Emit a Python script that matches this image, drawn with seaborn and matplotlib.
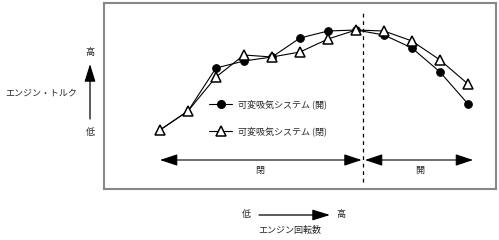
import matplotlib
matplotlib.use("Agg")
import matplotlib.pyplot as plt
from matplotlib.lines import Line2D
import seaborn as sns
import pandas as pd

sns.set_theme(style="white")
plt.rcParams['font.family'] = ['Noto Sans CJK JP', 'DejaVu Sans']

# data (engine speed index, relative torque)
rpm_idx = [0, 1, 2, 3, 4, 5, 6, 7, 8, 9, 10, 11]
torque_circle = [59, 78, 121, 128, 132, 151, 158, 159, 154, 141, 117, 85]
torque_triangle = [59, 78, 112, 134, 132, 137, 150, 159, 158, 148, 129, 105]
label_circle = "可変吸気システム (開)"
label_triangle = "可変吸気システム (閉)"
region_labels = ["閉", "開"]
switch_point = 7.25

W, H = 499, 240
fig = plt.figure(figsize=(W / 100, H / 100), dpi=100)
ax = fig.add_axes([104 / W, 1 - 189 / H, (496 - 104) / W, (189 - 3) / H])

circ_style = dict(color="black", lw=0.8, marker="o", markersize=5.5,
                  markerfacecolor="black", markeredgecolor="black")
tri_style = dict(color="black", lw=0.8, marker="^", markersize=7,
                 markerfacecolor="white", markeredgecolor="black", markeredgewidth=1.1)

df = pd.DataFrame({"rpm": rpm_idx, "c": torque_circle, "t": torque_triangle})
sns.lineplot(data=df, x="rpm", y="c", ax=ax, markevery=list(range(2, 12)),
             legend=False, zorder=3, **circ_style)
sns.lineplot(data=df, x="rpm", y="t", ax=ax, legend=False, zorder=4, **tri_style)

ax.set_xlim(-2, 12)
ax.set_ylim(0, 186)
ax.set_xticks([])
ax.set_yticks([])
ax.set_xlabel("")
ax.set_ylabel("")
for s in ax.spines.values():
    s.set_color("#888888")
    s.set_linewidth(1.5)

ax.vlines(switch_point, 7, 179, colors="black", linestyles=(0, (3, 3)), lw=0.9)

hs = '<|-|>,head_length=0.9,head_width=0.3'
ax.annotate("", xy=(0, 29), xytext=(7.2, 29),
            arrowprops=dict(arrowstyle=hs, color="black", lw=0.8, shrinkA=0, shrinkB=0))
ax.annotate("", xy=(7.32, 29), xytext=(11.18, 29),
            arrowprops=dict(arrowstyle=hs, color="black", lw=0.8, shrinkA=0, shrinkB=0))
ax.text(3.57, 19, region_labels[0], ha="center", va="center", fontsize=6.5)
ax.text(9.29, 19, region_labels[1], ha="center", va="center", fontsize=6.5)

handles = [Line2D([], [], **circ_style), Line2D([], [], **tri_style)]
leg = ax.legend(handles=handles, labels=[label_circle, label_triangle],
                loc="upper left", bbox_to_anchor=((209 - 104) / 392, (189 - 99) / 186),
                frameon=False, fontsize=6.5, handlelength=2.6, handletextpad=0.6,
                labelspacing=2.0, borderpad=0, borderaxespad=0)

def fx(x):
    return x / W

def fy(y):
    return 1 - y / H

ahs = '-|>,head_length=0.9,head_width=0.28'
fig.text(fx(90), fy(52), "高", ha="center", va="center", fontsize=6.5)
fig.text(fx(90), fy(133), "低", ha="center", va="center", fontsize=6.5)
fig.text(fx(41), fy(93), "エンジン・トルク", ha="center", va="center", fontsize=6.5)
ax.annotate("", xy=(fx(90), fy(64)), xytext=(fx(90), fy(119)), xycoords="figure fraction",
            textcoords="figure fraction",
            arrowprops=dict(arrowstyle=ahs, color="black", lw=0.9, shrinkA=0, shrinkB=0),
            annotation_clip=False)

fig.text(fx(246), fy(215), "低", ha="center", va="center", fontsize=6.5)
fig.text(fx(341), fy(215), "高", ha="center", va="center", fontsize=6.5)
fig.text(fx(290), fy(230), "エンジン回転数", ha="center", va="center", fontsize=6.5)
ax.annotate("", xy=(fx(330), fy(215)), xytext=(fx(259), fy(215)), xycoords="figure fraction",
            textcoords="figure fraction",
            arrowprops=dict(arrowstyle=ahs, color="black", lw=0.9, shrinkA=0, shrinkB=0),
            annotation_clip=False)

fig.savefig("out.png", dpi=100)
